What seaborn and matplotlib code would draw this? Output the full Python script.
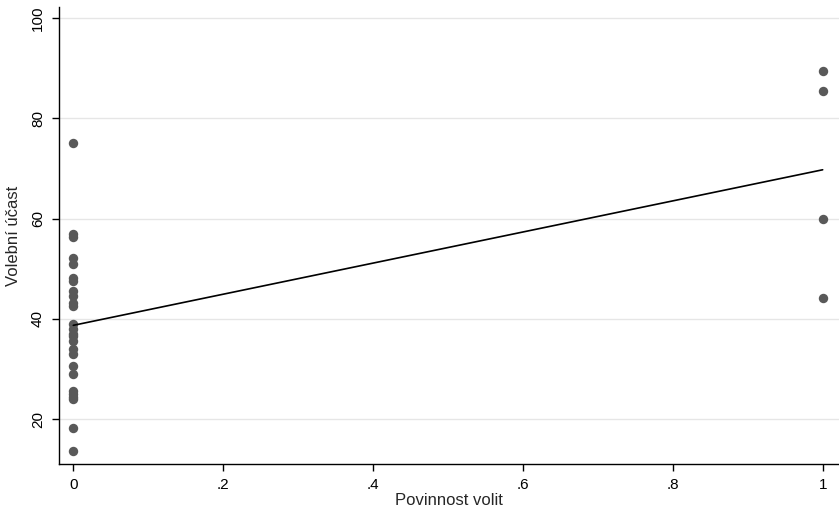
import matplotlib
matplotlib.use("Agg")
import matplotlib.pyplot as plt
import pandas as pd
import seaborn as sns

# compulsory voting (0/1) vs turnout (%)
povinnost = [0] * 26 + [1] * 4
ucast = [75, 57, 56.3, 52.2, 51, 48.2, 47.5, 45.5, 44.5, 43.2, 42.5,
         39, 38, 37, 36.5, 35.5, 34, 33, 30.5, 29, 25.5, 25, 24.5, 24,
         18.3, 13.6,
         89.5, 85.4, 60, 44.1]
x_ticks = [0, 0.2, 0.4, 0.6, 0.8, 1]
x_tick_labels = ["0", ".2", ".4", ".6", ".8", "1"]
y_ticks = [20, 40, 60, 80, 100]

df = pd.DataFrame({"povinnost": povinnost, "ucast": ucast})

sns.set_style("white")
plt.rcParams["font.family"] = ["Liberation Sans", "DejaVu Sans"]

fig = plt.figure(figsize=(8.39, 5.14), dpi=100)
ax = fig.add_axes([0.0703, 0.097, 0.9297, 0.89])

sns.regplot(data=df, x="povinnost", y="ucast", ax=ax, ci=None, truncate=True,
            scatter_kws={"s": 46, "color": "#595959", "alpha": 1, "linewidths": 0},
            line_kws={"color": "black", "linewidth": 1.2})

ax.set_xlim(-0.0191, 1.0218)
ax.set_ylim(11, 102.3)
ax.set_xticks(x_ticks)
ax.set_xticklabels(x_tick_labels)
ax.set_yticks(y_ticks)
ax.tick_params(axis="y", labelrotation=90)
for lbl in ax.get_yticklabels():
    lbl.set_va("center")
ax.tick_params(direction="out", length=5, width=1, colors="black", labelsize=11,
               left=True, bottom=True, pad=5)
ax.yaxis.grid(True, color="#e6e6e6", linewidth=1)
ax.set_axisbelow(True)

sns.despine(ax=ax, top=True, right=True)
ax.spines["left"].set_color("black")
ax.spines["bottom"].set_color("black")
ax.spines["left"].set_linewidth(1)
ax.spines["bottom"].set_linewidth(1)

ax.set_xlabel("Povinnost volit", fontsize=12, labelpad=1)
ax.set_ylabel("Volební účast", fontsize=12, labelpad=7)

fig.savefig("out.png", dpi=100)
